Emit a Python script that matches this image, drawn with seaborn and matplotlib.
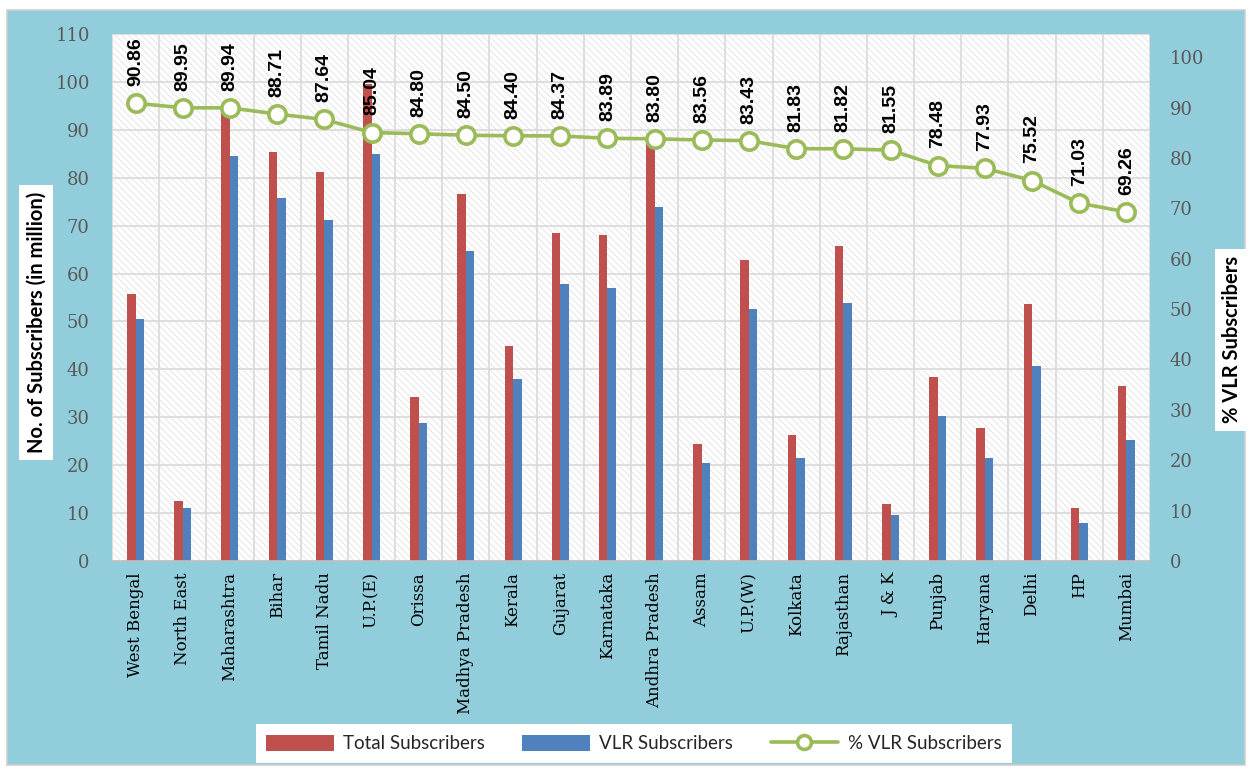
import numpy as np
import pandas as pd
import matplotlib
matplotlib.use("Agg")
import matplotlib.pyplot as plt
from matplotlib.patches import Patch, Rectangle
from matplotlib.lines import Line2D
import seaborn as sns

circles = ["West Bengal", "North East", "Maharashtra", "Bihar", "Tamil Nadu", "U.P.(E)",
           "Orissa", "Madhya Pradesh", "Kerala", "Gujarat", "Karnataka", "Andhra Pradesh",
           "Assam", "U.P.(W)", "Kolkata", "Rajasthan", "J & K", "Punjab", "Haryana",
           "Delhi", "HP", "Mumbai"]
total_subs = [55.7, 12.5, 93.7, 85.4, 81.1, 99.6, 34.2, 76.6, 44.9, 68.5, 68.0, 87.5,
              24.5, 62.8, 26.4, 65.8, 11.9, 38.5, 27.7, 53.7, 11.1, 36.5]
vlr_subs = [50.5, 11.1, 84.6, 75.8, 71.2, 84.9, 28.8, 64.7, 37.9, 57.8, 57.0, 73.8,
            20.5, 52.7, 21.6, 53.8, 9.7, 30.2, 21.6, 40.6, 7.9, 25.3]
pct_vlr = [90.86, 89.95, 89.94, 88.71, 87.64, 85.04, 84.80, 84.50, 84.40, 84.37, 83.89,
           83.80, 83.56, 83.43, 81.83, 81.82, 81.55, 78.48, 77.93, 75.52, 71.03, 69.26]
left_ticks = list(range(0, 111, 10))
right_ticks = list(range(0, 101, 10))

RED = "#C0504D"
BLUE = "#4F81BD"
GREEN = "#9BBB59"
BG = "#92CDDC"
GRID = "#D9D9D9"
TICKC = "#595959"

sns.set_theme(style="white")
plt.rcParams["font.family"] = ["DejaVu Sans"]
plt.rcParams["hatch.linewidth"] = 0.6

fig = plt.figure(figsize=(12.5, 7.69), dpi=100)
fig.patch.set_facecolor("white")
fig.patches.append(Rectangle((0.0056, 0.005), 0.9904, 0.982, transform=fig.transFigure,
                             facecolor=BG, edgecolor="#CFCFCF", linewidth=1.2, zorder=-10))

ax = fig.add_axes([0.0896, 0.2705, 0.8304, 0.6853])
ax.patch.set_facecolor("white")
ax.patch.set_hatch("\\\\\\\\\\")
ax.patch.set_edgecolor("#E2E2E2")

df = pd.DataFrame({
    "Circle": circles * 2,
    "Value": total_subs + vlr_subs,
    "Series": ["Total Subscribers"] * len(circles) + ["VLR Subscribers"] * len(circles),
})
sns.barplot(data=df, x="Circle", y="Value", hue="Series", order=circles,
            palette=[RED, BLUE], width=0.36, ax=ax, legend=False,
            edgecolor="none", linewidth=0, saturation=1)

n = len(circles)
ax.set_xlim(-0.5, n - 0.5)
ax.set_ylim(0, 110)
ax.set_yticks(left_ticks)
ax.set_xticks(np.arange(-0.5, n, 1), minor=True)
ax.set_axisbelow(True)
ax.grid(True, axis="y", which="major", color=GRID, linewidth=1.2)
ax.grid(True, axis="x", which="minor", color=GRID, linewidth=1.2)
ax.grid(False, axis="x", which="major")
ax.set_xlabel("")
ax.set_ylabel("")
for s in ["top", "left", "right"]:
    ax.spines[s].set_visible(False)
ax.spines["bottom"].set_color("#BFBFBF")
ax.spines["bottom"].set_linewidth(1.2)
ax.tick_params(axis="x", which="major", length=0, pad=8)
ax.tick_params(axis="x", which="minor", length=5, color="#BFBFBF", width=1.2, direction="out")
ax.tick_params(axis="y", length=0, pad=16)
ax.set_xticklabels(circles, rotation=90, va="top", ha="center",
                   fontfamily="DejaVu Serif", fontsize=12, color="black")
for lab in ax.get_yticklabels():
    lab.set_fontfamily("DejaVu Serif")
    lab.set_fontsize(13)
    lab.set_color(TICKC)

ax2 = ax.twinx()
sns.lineplot(x=np.arange(n), y=pct_vlr, ax=ax2, color=GREEN, linewidth=2.6,
             marker="o", markersize=12.5, markerfacecolor="white",
             markeredgecolor=GREEN, markeredgewidth=2.6)
ax2.set_ylim(0, 104.6)
ax2.set_yticks(right_ticks)
ax2.set_xlim(-0.5, n - 0.5)
for s in ["top", "left", "right", "bottom"]:
    ax2.spines[s].set_visible(False)
ax2.tick_params(axis="y", length=0, pad=14)
for lab in ax2.get_yticklabels():
    lab.set_fontfamily("DejaVu Serif")
    lab.set_fontsize(13)
    lab.set_color(TICKC)
ax2.set_ylabel("")
ax2.grid(False)

for i, v in enumerate(pct_vlr):
    ax2.text(i, v + 3.4, f"{v:.2f}", rotation=90, ha="center", va="bottom",
             fontsize=14, fontweight="bold", fontfamily="Liberation Sans", color="black")

fig.text(0.029, 0.581, "No. of Subscribers (in million)", rotation=90, ha="center", va="center",
         fontsize=14.5, fontweight="bold", fontfamily="Lato", color="black",
         bbox=dict(boxstyle="square,pad=0.35", facecolor="white", edgecolor="none"))
fig.text(0.986, 0.558, "% VLR Subscribers", rotation=90, ha="center", va="center",
         fontsize=14.5, fontweight="bold", fontfamily="Lato", color="black",
         bbox=dict(boxstyle="square,pad=0.35", facecolor="white", edgecolor="none"))

handles = [Patch(facecolor=RED, edgecolor="none"),
           Patch(facecolor=BLUE, edgecolor="none"),
           Line2D([0], [0], color=GREEN, linewidth=2.6, marker="o", markersize=10,
                  markerfacecolor="white", markeredgecolor=GREEN, markeredgewidth=2.6)]
labels = ["Total Subscribers", "VLR Subscribers", "% VLR Subscribers"]
leg = fig.legend(handles, labels, loc="lower center", bbox_to_anchor=(0.507, -0.004),
                 ncol=3, frameon=True, fancybox=False, facecolor="white", edgecolor="white",
                 framealpha=1, prop={"family": "Lato", "size": 13.5}, handlelength=3.6,
                 handleheight=1.0, columnspacing=2.0, borderpad=0.55, handletextpad=0.5)
leg.get_frame().set_linewidth(0)

fig.savefig("out.png", dpi=100, facecolor=fig.get_facecolor())
